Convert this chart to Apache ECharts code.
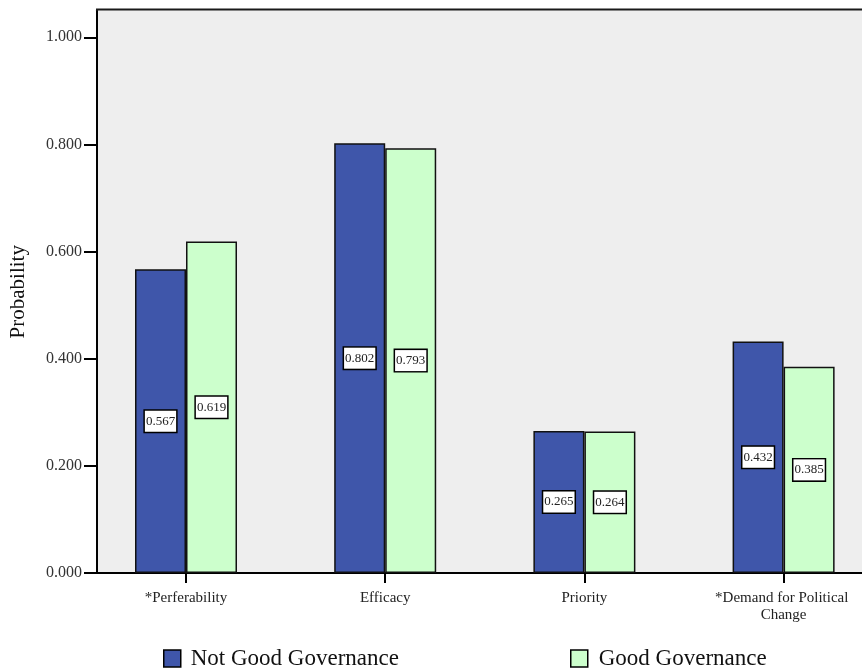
<!DOCTYPE html>
<html>
<head>
<meta charset="utf-8">
<script src="https://cdn.jsdelivr.net/npm/echarts@6/dist/echarts.min.js"></script>
<style>html,body{margin:0;padding:0;background:#fff;}#c{width:862px;height:671px;}</style>
</head>
<body>
<div id="c"></div>
<script>
var categories = ['*Perferability', 'Efficacy', 'Priority', '*Demand for Political Change'];
var seriesNames = ['Not Good Governance', 'Good Governance'];
var notGood = [0.567, 0.802, 0.265, 0.432];
var good = [0.619, 0.793, 0.264, 0.385];
var yTicks = [0, 0.2, 0.4, 0.6, 0.8, 1.0];

var FONT = '"Liberation Serif", "Times New Roman", serif';
var chart = echarts.init(document.getElementById('c'), null, {renderer: 'canvas'});

function barLabel() {
  return {
    show: true, position: 'inside',
    formatter: function (p) { return p.value.toFixed(3); },
    fontFamily: FONT, fontSize: 13, color: '#222', lineHeight: 15,
    backgroundColor: '#fff', borderColor: '#000', borderWidth: 1.5,
    padding: [3, 1, 3, 1]
  };
}

chart.setOption({
  animation: false,
  backgroundColor: '#fff',
  grid: {left: 86.4, width: 796.8, top: 10.5, bottom: 98, containLabel: false, outerBoundsMode: 'none'},
  graphic: [
    {type: 'rect', z: -10, shape: {x: 97, y: 10, width: 765, height: 563}, style: {fill: '#eeeeee'}},
    {type: 'line', z: 10, shape: {x1: 96, y1: 9.5, x2: 862, y2: 9.5}, style: {stroke: '#1a1a1a', lineWidth: 2}}
  ],
  legend: [
    {data: [seriesNames[0]], left: 163, top: 647, padding: 0, icon: 'rect', itemWidth: 17, itemHeight: 17,
     itemStyle: {borderColor: '#000', borderWidth: 1.5},
     textStyle: {fontFamily: FONT, fontSize: 23, color: '#111', padding: [0, 0, 0, 5]}},
    {data: [seriesNames[1]], left: 570, top: 647, padding: 0, icon: 'rect', itemWidth: 17, itemHeight: 17,
     itemStyle: {borderColor: '#000', borderWidth: 1.5},
     textStyle: {fontFamily: FONT, fontSize: 23, color: '#111', padding: [0, 0, 0, 6]}}
  ],
  xAxis: {
    type: 'category', data: categories, boundaryGap: true,
    axisLine: {show: true, lineStyle: {color: '#000', width: 2}},
    axisTick: {show: true, alignWithLabel: true, length: 10, lineStyle: {color: '#000', width: 2}},
    axisLabel: {fontFamily: FONT, fontSize: 15, color: '#222', margin: 17, lineHeight: 17,
                width: 150, overflow: 'break', interval: 0},
    splitLine: {show: false}
  },
  yAxis: {
    type: 'value', min: 0, max: 1.05, offset: -10.6,
    name: 'Probability', nameLocation: 'middle', nameGap: 68,
    nameTextStyle: {fontFamily: FONT, fontSize: 21, color: '#111'},
    axisLine: {show: true, lineStyle: {color: '#000', width: 2}},
    axisTick: {show: true, length: 13, customValues: yTicks, lineStyle: {color: '#000', width: 2}},
    axisLabel: {customValues: yTicks, fontFamily: FONT, fontSize: 16, color: '#333', margin: 15,
                formatter: function (v) { return v.toFixed(3); }},
    splitLine: {show: false}
  },
  series: [
    {name: seriesNames[0], type: 'bar', data: notGood, barWidth: 51, barGap: '0%',
     itemStyle: {color: '#3f56aa', borderColor: '#111', borderWidth: 1.5},
     label: barLabel()},
    {name: seriesNames[1], type: 'bar', data: good, barWidth: 51, barGap: '0%',
     itemStyle: {color: '#ccffcc', borderColor: '#111', borderWidth: 1.5},
     label: barLabel()}
  ]
});
</script>
</body>
</html>
